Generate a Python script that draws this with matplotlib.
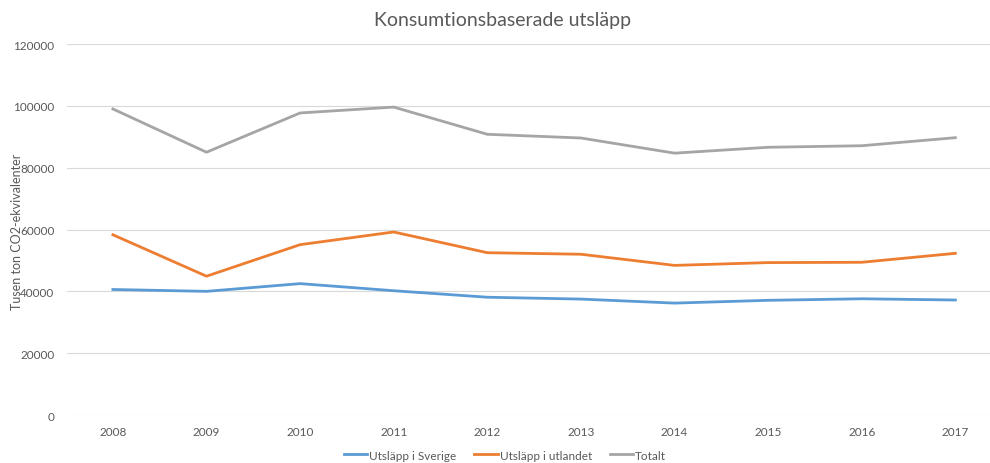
import numpy as np
import matplotlib.pyplot as plt

plt.rcParams['font.family'] = ['Lato', 'DejaVu Sans']

years = ['2008', '2009', '2010', '2011', '2012', '2013', '2014', '2015', '2016', '2017']
sverige = [40600, 40000, 42500, 40200, 38100, 37500, 36200, 37100, 37600, 37200]
utlandet = [58300, 44900, 55100, 59200, 52500, 52000, 48400, 49300, 49400, 52300]
totalt = [99000, 85000, 97700, 99600, 90800, 89600, 84700, 86600, 87100, 89700]

fig = plt.figure(figsize=(9.9, 4.64), dpi=100)
ax = fig.add_axes([0.0677, 0.1034, 0.9323, 0.7996])

x = np.arange(len(years))
ax.plot(x, sverige, color='#5B9BD5', lw=2, label='Utsläpp i Sverige')
ax.plot(x, utlandet, color='#ED7D31', lw=2, label='Utsläpp i utlandet')
ax.plot(x, totalt, color='#A5A5A5', lw=2, label='Totalt')

ax.set_xlim(-0.49, 9.37)
ax.set_ylim(0, 120000)
ax.set_yticks(np.arange(0, 120001, 20000))
ax.set_xticks(x)
ax.set_xticklabels(years)
ax.grid(axis='y', color='#D9D9D9', lw=0.8)
ax.set_axisbelow(True)
for s in ax.spines.values():
    s.set_visible(False)
ax.tick_params(length=0, labelsize=8.5, colors='#595959', pad=8)
ax.tick_params(axis='y', pad=9)

# y-axis title placed by hand, close to the left edge
fig.text(0.017, 0.5, 'Tusen ton CO2-ekvivalenter', rotation=90, ha='center', va='center',
         fontsize=9, color='#595959')
fig.text(0.508, 0.955, 'Konsumtionsbaserade utsläpp', ha='center', va='center',
         fontsize=14, color='#595959')

leg = fig.legend(loc='center', bbox_to_anchor=(0.51, 0.017), ncol=3, frameon=False,
                 fontsize=8.5, handlelength=2.0, handletextpad=0.15, columnspacing=1.5)
for t in leg.get_texts():
    t.set_color('#595959')

fig.savefig('out.png', dpi=100)
